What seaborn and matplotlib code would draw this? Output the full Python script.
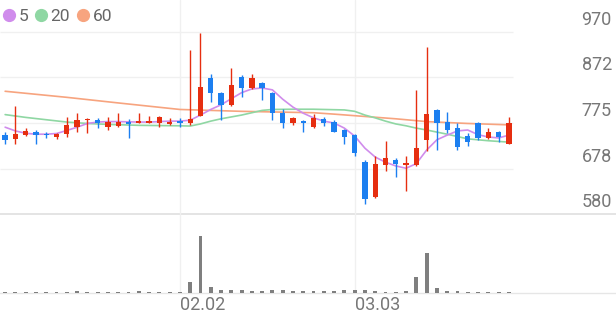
import numpy as np
import pandas as pd
import matplotlib
matplotlib.use("Agg")
import matplotlib.pyplot as plt
import matplotlib.transforms as mtransforms
from matplotlib.lines import Line2D
import seaborn as sns

# ---------------- data ----------------
opens  = [749, 740, 750, 756, 751, 744, 751, 766, 782, 781,
          767, 769, 777, 776, 776, 776, 772, 780, 776, 791,
          871, 840, 814, 874, 849, 860, 840, 796, 775, 780,
          766, 783, 778, 760, 749, 691, 616, 685, 696, 684,
          685, 738, 803, 778, 764, 748, 776, 743, 755, 730]
highs  = [756, 811, 764, 760, 756, 754, 787, 796, 785, 785,
          787, 796, 783, 797, 790, 790, 786, 785, 932, 967,
          880, 842, 893, 878, 881, 862, 842, 806, 788, 781,
          795, 788, 781, 762, 751, 695, 704, 737, 700, 704,
          846, 937, 805, 799, 775, 753, 778, 764, 758, 788]
lows   = [731, 730, 747, 731, 742, 740, 744, 756, 754, 764,
          760, 767, 742, 776, 776, 766, 770, 767, 771, 789,
          821, 781, 812, 831, 848, 824, 781, 764, 771, 756,
          764, 768, 755, 731, 704, 602, 614, 673, 660, 630,
          682, 714, 717, 754, 717, 725, 739, 741, 735, 729]
closes = [739, 751, 758, 749, 749, 752, 771, 781, 784, 774,
          777, 777, 773, 779, 779, 788, 778, 776, 783, 853,
          839, 814, 856, 849, 871, 849, 796, 775, 785, 774,
          785, 775, 756, 746, 711, 612, 687, 701, 687, 689,
          722, 794, 776, 759, 723, 735, 742, 756, 745, 774]
volumes = [3, 4, 2, 3, 2, 3, 4, 6, 3, 3,
           3, 3, 4, 5, 3, 4, 3, 3, 33, 171,
           18, 9, 8, 8, 6, 6, 10, 9, 5, 5,
           5, 5, 7, 8, 8, 9, 5, 4, 3, 5,
           48, 121, 16, 7, 6, 4, 4, 4, 4, 2]

ma5 = [766, 758, 753, 751, 751, 752.5, 759, 766, 774, 777,
       778, 778, 777.5, 777, 777, 778, 779, 779, 781, 792,
       804, 814, 827, 840, 848, 850, 846, 826, 809, 796,
       786, 779, 775, 764, 747, 721, 702, 691, 683, 678,
       688, 717, 739, 749, 758, 760, 750, 745, 743, 749]
ma20_idx = [0, 2, 4, 6, 8, 10, 13, 17, 18, 19, 20, 21, 22, 23, 24, 25, 26,
            28, 30, 33, 34, 35, 36, 37, 38, 39, 40, 41, 43, 45, 47, 49]
ma20 = [793, 787, 782, 777, 774, 772, 770, 769, 768.5, 773, 779, 784, 788,
        792, 797, 802, 804, 804.5, 804.5, 803, 800, 792, 786, 779, 773, 769,
        764, 760, 751, 741, 737, 734]
ma60_idx = [0, 6, 11, 17, 23, 30, 32, 35, 38, 41, 45, 49]
ma60 = [843, 830, 818, 804, 800, 797, 794, 789, 784, 778, 774, 771]

date_ticks = [17, 34]
date_labels = ["02.02", "03.03"]
price_ticks = [580, 677.5, 775, 872.5, 970]
price_labels = ["580", "678", "775", "872", "970"]
legend_labels = ["5", "20", "60"]

# ---------------- styling ----------------
sns.set_theme(style="white")
plt.rcParams['font.family'] = ['Roboto', 'DejaVu Sans']

RED = "#E62E10"
BLUE = "#1C7FF0"
C5, C20, C60 = "#D08CEC", "#8FD7A3", "#F7A47F"
GRID = "#F0F0F0"
TXT = "#777777"

W, H = 616, 321
fig = plt.figure(figsize=(W / 100, H / 100), dpi=100)
fig.patch.set_facecolor("white")

step = 10.28                      # px per candle
n = len(opens)
xr = -0.5 + W / step
x = np.arange(n)

# price panel: y=0 .. 214 px
ax = fig.add_axes([0, (H - 214) / H, 1, 214 / H])
ymin = 580
ymax = 580 + 214 * (390 / 182)
ax.set_xlim(-0.5, xr)
ax.set_ylim(ymin, ymax)

# volume panel: y=214 .. 293 px
axv = fig.add_axes([0, (H - 293) / H, 1, (293 - 214) / H])
axv.set_xlim(-0.5, xr)
axv.set_ylim(0, 237)

for a in (ax, axv):
    for s in a.spines.values():
        s.set_visible(False)
    a.set_facecolor("none")

# grid
ax.hlines(price_ticks[1:], -0.5, n - 0.6, color=GRID, lw=1.0, zorder=0)
ax.axhline(580, color="#E2E2E2", lw=1.3, clip_on=False, zorder=0)
for p in date_ticks:
    ax.axvline(p, color=GRID, lw=1.0, zorder=0)
    axv.axvline(p, color=GRID, lw=1.0, zorder=0)
axv.axhline(0, color="#E6E6E6", lw=1.0, clip_on=False, zorder=0)

# moving averages
sns.lineplot(x=ma60_idx, y=ma60, ax=ax, color=C60, lw=1.2, zorder=2)
sns.lineplot(x=ma20_idx, y=ma20, ax=ax, color=C20, lw=1.2, zorder=2)
sns.lineplot(x=list(x), y=ma5, ax=ax, color=C5, lw=1.2, zorder=2)

# candles
o = np.array(opens, float); c = np.array(closes, float)
hi = np.array(highs, float); lo = np.array(lows, float)
cols = [RED if cc >= oo else BLUE for oo, cc in zip(o, c)]
ax.vlines(x, lo, hi, colors=cols, lw=1.0, zorder=3)
bottoms = np.minimum(o, c)
heights = np.maximum(np.abs(c - o), 2.5)
ax.bar(x, heights, bottom=bottoms, width=0.52, color=cols, linewidth=0, zorder=4)

# volume
axv.bar(x, volumes, width=0.38, color="#7F7F7F", linewidth=0, zorder=3)

# y labels on right
ax.yaxis.tick_right()
ax.set_yticks(price_ticks)
ax.set_yticklabels(price_labels)
ax.tick_params(axis="y", length=0, pad=-3, labelsize=13, labelcolor=TXT)
off = mtransforms.ScaledTranslation(0, 14 / 100, fig.dpi_scale_trans)
for lbl in ax.get_yticklabels():
    lbl.set_ha("right")
    lbl.set_transform(lbl.get_transform() + off)
ax.set_xticks([])
ax.set_xlabel(""); ax.set_ylabel("")

# x labels
axv.set_xticks(date_ticks)
axv.set_xticklabels(date_labels)
axv.tick_params(axis="x", length=0, pad=2, labelsize=13, labelcolor=TXT)
for lbl in axv.get_xticklabels():
    lbl.set_ha("left")
axv.set_yticks([])

# legend
handles = [Line2D([], [], marker="o", ls="", color=cc, markersize=8.5) for cc in (C5, C20, C60)]
leg = ax.legend(handles, legend_labels, loc="upper left", bbox_to_anchor=(-0.004, 0.975),
                ncol=3, frameon=False, handletextpad=0.1, columnspacing=0.3,
                borderaxespad=0.0, borderpad=0.2, handlelength=0.9, fontsize=12.5,
                labelcolor="#666666")

fig.savefig("out.png", dpi=100, facecolor="white")
